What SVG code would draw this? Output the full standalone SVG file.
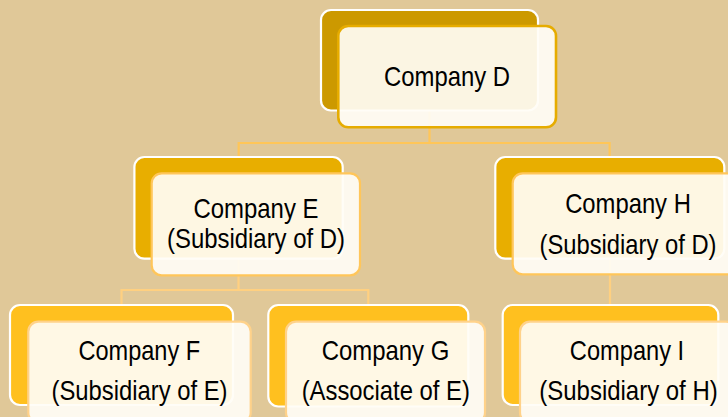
<svg xmlns="http://www.w3.org/2000/svg" width="728" height="417" viewBox="0 0 728 417">
<style>
.bg{fill:#E0C898}
.back{stroke:#FFFFFF;stroke-width:2.2}
.b1{fill:#CC9900}
.b2{fill:#E8AE00}
.b3{fill:#FFC01F}
.front{fill:#FFFDF6;fill-opacity:0.92}
.f1{stroke:#E6AC00;stroke-width:2.6}
.f2{stroke:#FFC65A;stroke-width:2.2}
.f3{stroke:#FFD28A;stroke-width:2.2}
.c1{stroke:#FFC658;stroke-width:2.2;fill:none}
.c2{stroke:#FFD080;stroke-width:2.2;fill:none}
text{font-family:"Liberation Sans",Arial,sans-serif;font-size:28px;fill:#000;text-anchor:middle}
</style>
<rect class="bg" x="0" y="0" width="728" height="417"/>
<g id="connectors">
<path class="c1" d="M429.5,110 V143 M238.7,157 V143 H609.6 V157"/>
<path class="c2" d="M238.5,259 V290 M121.5,305 V290 H368.3 V305"/>
<path class="c2" d="M610,259 V305"/>
</g>
<g id="nodeD">
<rect class="back b1" x="321" y="10" width="217" height="100.5" rx="10"/>
<rect class="front f1" x="338.3" y="26" width="217.7" height="101.3" rx="10"/>
<text x="447" y="86" textLength="126" lengthAdjust="spacingAndGlyphs">Company D</text>
</g>
<g id="nodeE">
<rect class="back b2" x="134.4" y="157" width="208.3" height="101.7" rx="10"/>
<rect class="front f2" x="151.7" y="173.3" width="208.3" height="102" rx="10"/>
<text x="256" y="218.3" textLength="125" lengthAdjust="spacingAndGlyphs">Company E</text>
<text x="256" y="248.3" textLength="178" lengthAdjust="spacingAndGlyphs">(Subsidiary of D)</text>
</g>
<g id="nodeH">
<rect class="back b2" x="495.3" y="157" width="229" height="101.7" rx="10"/>
<rect class="front f2" x="512.7" y="173.3" width="230" height="101" rx="10"/>
<text x="628" y="213.3" textLength="125.7" lengthAdjust="spacingAndGlyphs">Company H</text>
<text x="628" y="254" textLength="177" lengthAdjust="spacingAndGlyphs">(Subsidiary of D)</text>
</g>
<g id="nodeF">
<rect class="back b3" x="10" y="305" width="223" height="100" rx="10"/>
<rect class="front f3" x="28.3" y="321.7" width="222.4" height="101" rx="10"/>
<text x="139.3" y="360" textLength="121.7" lengthAdjust="spacingAndGlyphs">Company F</text>
<text x="139.5" y="400" textLength="176" lengthAdjust="spacingAndGlyphs">(Subsidiary of E)</text>
</g>
<g id="nodeG">
<rect class="back b3" x="268.3" y="305" width="200" height="101.5" rx="10"/>
<rect class="front f3" x="286" y="321.7" width="199" height="101" rx="10"/>
<text x="385.5" y="360" textLength="127.7" lengthAdjust="spacingAndGlyphs">Company G</text>
<text x="385.8" y="400" textLength="168.3" lengthAdjust="spacingAndGlyphs">(Associate of E)</text>
</g>
<g id="nodeI">
<rect class="back b3" x="502.7" y="305" width="215.6" height="100" rx="10"/>
<rect class="front f3" x="520" y="321.7" width="216" height="101" rx="10"/>
<text x="627" y="360" textLength="114.3" lengthAdjust="spacingAndGlyphs">Company I</text>
<text x="628.5" y="400" textLength="178.3" lengthAdjust="spacingAndGlyphs">(Subsidiary of H)</text>
</g>
</svg>
